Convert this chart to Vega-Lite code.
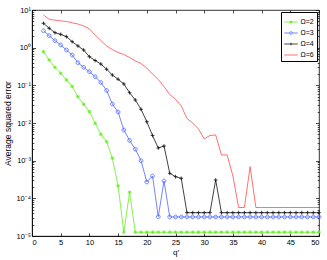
{
"$schema": "https://vega.github.io/schema/vega-lite/v6.json",
"width": 287, "height": 226,
"autosize": "none",
"padding": {"left": 32, "top": 10, "right": 8, "bottom": 24},
"data": {"values": [
{"q":2,"e":0.782,"s":"Ω=2"},{"q":3,"e":0.471,"s":"Ω=2"},{"q":4,"e":0.30,"s":"Ω=2"},{"q":5,"e":0.21,"s":"Ω=2"},{"q":6,"e":0.139,"s":"Ω=2"},{"q":7,"e":0.0931,"s":"Ω=2"},{"q":8,"e":0.0499,"s":"Ω=2"},{"q":9,"e":0.0314,"s":"Ω=2"},{"q":10,"e":0.0200,"s":"Ω=2"},{"q":11,"e":0.00982,"s":"Ω=2"},{"q":12,"e":0.00501,"s":"Ω=2"},{"q":13,"e":0.00319,"s":"Ω=2"},{"q":14,"e":0.00116,"s":"Ω=2"},{"q":15,"e":0.000213,"s":"Ω=2"},{"q":16,"e":0.0000126,"s":"Ω=2"},{"q":17,"e":0.000145,"s":"Ω=2"},{"q":18,"e":0.0000126,"s":"Ω=2"},{"q":19,"e":0.0000126,"s":"Ω=2"},{"q":20,"e":0.0000126,"s":"Ω=2"},{"q":21,"e":0.0000126,"s":"Ω=2"},{"q":22,"e":0.0000126,"s":"Ω=2"},{"q":23,"e":0.0000126,"s":"Ω=2"},{"q":24,"e":0.0000126,"s":"Ω=2"},{"q":25,"e":0.0000126,"s":"Ω=2"},{"q":26,"e":0.0000126,"s":"Ω=2"},{"q":27,"e":0.0000126,"s":"Ω=2"},{"q":28,"e":0.0000126,"s":"Ω=2"},{"q":29,"e":0.0000126,"s":"Ω=2"},{"q":30,"e":0.0000126,"s":"Ω=2"},{"q":31,"e":0.0000126,"s":"Ω=2"},{"q":32,"e":0.0000126,"s":"Ω=2"},{"q":33,"e":0.0000126,"s":"Ω=2"},{"q":34,"e":0.0000126,"s":"Ω=2"},{"q":35,"e":0.0000126,"s":"Ω=2"},{"q":36,"e":0.0000126,"s":"Ω=2"},{"q":37,"e":0.0000126,"s":"Ω=2"},{"q":38,"e":0.0000126,"s":"Ω=2"},{"q":39,"e":0.0000126,"s":"Ω=2"},{"q":40,"e":0.0000126,"s":"Ω=2"},{"q":41,"e":0.0000126,"s":"Ω=2"},{"q":42,"e":0.0000126,"s":"Ω=2"},{"q":43,"e":0.0000126,"s":"Ω=2"},{"q":44,"e":0.0000126,"s":"Ω=2"},{"q":45,"e":0.0000126,"s":"Ω=2"},{"q":46,"e":0.0000126,"s":"Ω=2"},{"q":47,"e":0.0000126,"s":"Ω=2"},{"q":48,"e":0.0000126,"s":"Ω=2"},{"q":49,"e":0.0000126,"s":"Ω=2"},{"q":50,"e":0.0000126,"s":"Ω=2"},
{"q":2,"e":2.82,"s":"Ω=3"},{"q":3,"e":2.08,"s":"Ω=3"},{"q":4,"e":1.53,"s":"Ω=3"},{"q":5,"e":1.18,"s":"Ω=3"},{"q":6,"e":0.867,"s":"Ω=3"},{"q":7,"e":0.638,"s":"Ω=3"},{"q":8,"e":0.399,"s":"Ω=3"},{"q":9,"e":0.301,"s":"Ω=3"},{"q":10,"e":0.230,"s":"Ω=3"},{"q":11,"e":0.169,"s":"Ω=3"},{"q":12,"e":0.119,"s":"Ω=3"},{"q":13,"e":0.0730,"s":"Ω=3"},{"q":14,"e":0.0320,"s":"Ω=3"},{"q":15,"e":0.0196,"s":"Ω=3"},{"q":16,"e":0.00652,"s":"Ω=3"},{"q":17,"e":0.00344,"s":"Ω=3"},{"q":18,"e":0.00202,"s":"Ω=3"},{"q":19,"e":0.000998,"s":"Ω=3"},{"q":20,"e":0.000272,"s":"Ω=3"},{"q":21,"e":0.000392,"s":"Ω=3"},{"q":22,"e":0.0000326,"s":"Ω=3"},{"q":23,"e":0.000289,"s":"Ω=3"},{"q":24,"e":0.000032,"s":"Ω=3"},{"q":25,"e":0.000032,"s":"Ω=3"},{"q":26,"e":0.000032,"s":"Ω=3"},{"q":27,"e":0.000032,"s":"Ω=3"},{"q":28,"e":0.000032,"s":"Ω=3"},{"q":29,"e":0.000032,"s":"Ω=3"},{"q":30,"e":0.000032,"s":"Ω=3"},{"q":31,"e":0.000032,"s":"Ω=3"},{"q":32,"e":0.000032,"s":"Ω=3"},{"q":33,"e":0.000032,"s":"Ω=3"},{"q":34,"e":0.000032,"s":"Ω=3"},{"q":35,"e":0.000032,"s":"Ω=3"},{"q":36,"e":0.000032,"s":"Ω=3"},{"q":37,"e":0.000032,"s":"Ω=3"},{"q":38,"e":0.000032,"s":"Ω=3"},{"q":39,"e":0.000032,"s":"Ω=3"},{"q":40,"e":0.000032,"s":"Ω=3"},{"q":41,"e":0.000032,"s":"Ω=3"},{"q":42,"e":0.000032,"s":"Ω=3"},{"q":43,"e":0.000032,"s":"Ω=3"},{"q":44,"e":0.000032,"s":"Ω=3"},{"q":45,"e":0.000032,"s":"Ω=3"},{"q":46,"e":0.000032,"s":"Ω=3"},{"q":47,"e":0.000032,"s":"Ω=3"},{"q":48,"e":0.000032,"s":"Ω=3"},{"q":49,"e":0.000032,"s":"Ω=3"},{"q":50,"e":0.000032,"s":"Ω=3"},
{"q":2,"e":4.43,"s":"Ω=4"},{"q":3,"e":3.27,"s":"Ω=4"},{"q":4,"e":2.50,"s":"Ω=4"},{"q":5,"e":2.26,"s":"Ω=4"},{"q":6,"e":1.96,"s":"Ω=4"},{"q":7,"e":1.44,"s":"Ω=4"},{"q":8,"e":1.11,"s":"Ω=4"},{"q":9,"e":0.867,"s":"Ω=4"},{"q":10,"e":0.576,"s":"Ω=4"},{"q":11,"e":0.456,"s":"Ω=4"},{"q":12,"e":0.368,"s":"Ω=4"},{"q":13,"e":0.267,"s":"Ω=4"},{"q":14,"e":0.188,"s":"Ω=4"},{"q":15,"e":0.145,"s":"Ω=4"},{"q":16,"e":0.109,"s":"Ω=4"},{"q":17,"e":0.0638,"s":"Ω=4"},{"q":18,"e":0.0408,"s":"Ω=4"},{"q":19,"e":0.0231,"s":"Ω=4"},{"q":20,"e":0.0108,"s":"Ω=4"},{"q":21,"e":0.00466,"s":"Ω=4"},{"q":22,"e":0.00217,"s":"Ω=4"},{"q":23,"e":0.00245,"s":"Ω=4"},{"q":24,"e":0.000462,"s":"Ω=4"},{"q":25,"e":0.000376,"s":"Ω=4"},{"q":26,"e":0.000340,"s":"Ω=4"},{"q":27,"e":0.0000416,"s":"Ω=4"},{"q":28,"e":0.0000416,"s":"Ω=4"},{"q":29,"e":0.0000416,"s":"Ω=4"},{"q":30,"e":0.0000416,"s":"Ω=4"},{"q":31,"e":0.0000416,"s":"Ω=4"},{"q":32,"e":0.000307,"s":"Ω=4"},{"q":33,"e":0.0000416,"s":"Ω=4"},{"q":34,"e":0.0000416,"s":"Ω=4"},{"q":35,"e":0.0000416,"s":"Ω=4"},{"q":36,"e":0.0000416,"s":"Ω=4"},{"q":37,"e":0.0000416,"s":"Ω=4"},{"q":38,"e":0.0000416,"s":"Ω=4"},{"q":39,"e":0.0000416,"s":"Ω=4"},{"q":40,"e":0.0000416,"s":"Ω=4"},{"q":41,"e":0.0000416,"s":"Ω=4"},{"q":42,"e":0.0000416,"s":"Ω=4"},{"q":43,"e":0.0000416,"s":"Ω=4"},{"q":44,"e":0.0000416,"s":"Ω=4"},{"q":45,"e":0.0000416,"s":"Ω=4"},{"q":46,"e":0.0000416,"s":"Ω=4"},{"q":47,"e":0.0000416,"s":"Ω=4"},{"q":48,"e":0.0000416,"s":"Ω=4"},{"q":49,"e":0.0000416,"s":"Ω=4"},{"q":50,"e":0.0000416,"s":"Ω=4"},
{"q":2,"e":7.37,"s":"Ω=6"},{"q":3,"e":5.63,"s":"Ω=6"},{"q":4,"e":5.36,"s":"Ω=6"},{"q":5,"e":5.17,"s":"Ω=6"},{"q":6,"e":4.95,"s":"Ω=6"},{"q":7,"e":4.57,"s":"Ω=6"},{"q":8,"e":4.25,"s":"Ω=6"},{"q":9,"e":3.76,"s":"Ω=6"},{"q":10,"e":3.17,"s":"Ω=6"},{"q":11,"e":2.17,"s":"Ω=6"},{"q":12,"e":1.55,"s":"Ω=6"},{"q":13,"e":1.11,"s":"Ω=6"},{"q":14,"e":0.893,"s":"Ω=6"},{"q":15,"e":0.744,"s":"Ω=6"},{"q":16,"e":0.659,"s":"Ω=6"},{"q":17,"e":0.548,"s":"Ω=6"},{"q":18,"e":0.443,"s":"Ω=6"},{"q":19,"e":0.380,"s":"Ω=6"},{"q":20,"e":0.288,"s":"Ω=6"},{"q":21,"e":0.200,"s":"Ω=6"},{"q":22,"e":0.143,"s":"Ω=6"},{"q":23,"e":0.0920,"s":"Ω=6"},{"q":24,"e":0.0571,"s":"Ω=6"},{"q":25,"e":0.0426,"s":"Ω=6"},{"q":26,"e":0.0283,"s":"Ω=6"},{"q":27,"e":0.0132,"s":"Ω=6"},{"q":28,"e":0.0100,"s":"Ω=6"},{"q":29,"e":0.00693,"s":"Ω=6"},{"q":30,"e":0.00377,"s":"Ω=6"},{"q":31,"e":0.00466,"s":"Ω=6"},{"q":32,"e":0.00481,"s":"Ω=6"},{"q":33,"e":0.00142,"s":"Ω=6"},{"q":34,"e":0.00142,"s":"Ω=6"},{"q":35,"e":0.000392,"s":"Ω=6"},{"q":36,"e":0.0000571,"s":"Ω=6"},{"q":37,"e":0.0000571,"s":"Ω=6"},{"q":38,"e":0.000692,"s":"Ω=6"},{"q":39,"e":0.0000571,"s":"Ω=6"},{"q":40,"e":0.0000571,"s":"Ω=6"},{"q":41,"e":0.0000571,"s":"Ω=6"},{"q":42,"e":0.0000571,"s":"Ω=6"},{"q":43,"e":0.0000571,"s":"Ω=6"},{"q":44,"e":0.0000571,"s":"Ω=6"},{"q":45,"e":0.0000571,"s":"Ω=6"},{"q":46,"e":0.0000571,"s":"Ω=6"},{"q":47,"e":0.0000571,"s":"Ω=6"},{"q":48,"e":0.0000571,"s":"Ω=6"},{"q":49,"e":0.0000571,"s":"Ω=6"},{"q":50,"e":0.0000571,"s":"Ω=6"}
]},
"layer": [
{
"mark": {"type": "line", "strokeWidth": 0.8},
"encoding": {
"x": {"field": "q", "type": "quantitative", "scale": {"domain": [0, 50], "nice": false},
 "axis": {"title": "q′", "values": [0,5,10,15,20,25,30,35,40,45,50], "tickSize": -3, "labelPadding": 5, "titlePadding": 3}},
"y": {"field": "e", "type": "quantitative", "scale": {"type": "log", "domain": [0.00001, 10], "nice": false},
 "axis": {"title": "Average squared error", "titlePadding": 3, "titleFontSize": 8.5,
 "values": [0.00001,0.00002,0.00003,0.00004,0.00005,0.00006,0.00007,0.00008,0.00009,0.0001,0.0002,0.0003,0.0004,0.0005,0.0006,0.0007,0.0008,0.0009,0.001,0.002,0.003,0.004,0.005,0.006,0.007,0.008,0.009,0.01,0.02,0.03,0.04,0.05,0.06,0.07,0.08,0.09,0.1,0.2,0.3,0.4,0.5,0.6,0.7,0.8,0.9,1,2,3,4,5,6,7,8,9,10],
 "tickSize": {"condition": {"test": "abs(log(datum.value)/LN10 - round(log(datum.value)/LN10)) < 0.01", "value": -3.5}, "value": -1.8},
 "labelPadding": 5, "labelOverlap": false,
 "labelExpr": "abs(log(datum.value)/LN10 - round(log(datum.value)/LN10)) < 0.01 ? '10' + ['⁻⁵','⁻⁴','⁻³','⁻²','⁻¹','⁰','¹'][round(log(datum.value)/LN10) + 5] : ''"}},
"color": {"field": "s", "type": "nominal", "scale": {"domain": ["Ω=2","Ω=3","Ω=4","Ω=6"], "range": ["#66ee22","#4d66ff","#111111","#ff4d4d"]}, "legend": null},
"detail": {"field": "s"}
}
},
{
"transform": [{"filter": "datum.s != 'Ω=6'"}],
"mark": {"type": "point", "filled": false, "strokeWidth": 0.8, "opacity": 1, "size": 14},
"encoding": {
"x": {"field": "q", "type": "quantitative", "axis": null},
"y": {"field": "e", "type": "quantitative", "axis": null},
"color": {"field": "s", "type": "nominal", "legend": null},
"shape": {"field": "s", "type": "nominal", "legend": null, "scale": {"domain": ["Ω=2","Ω=3","Ω=4"], "range": ["M-1,0L1,0M0,-1L0,1M-0.7,-0.7L0.7,0.7M-0.7,0.7L0.7,-0.7", "M-1,0A1,1 0 1,0 1,0A1,1 0 1,0 -1,0", "M-1,0L1,0M0,-1L0,1"]}}
}
},
{
"mark": {"type": "point", "filled": false, "opacity": 0},
"encoding": {
"x": {"field": "q", "type": "quantitative", "axis": null},
"y": {"field": "e", "type": "quantitative", "axis": null},
"color": {"field": "s", "type": "nominal", "legend": {"title": null, "orient": "top-right", "offset": 2, "strokeColor": "#000", "fillColor": "#fff", "padding": 2.5, "symbolSize": 180, "symbolStrokeWidth": 0.8, "symbolOpacity": 1, "labelFontSize": 7, "labelFont": "Liberation Sans", "labelColor": "#000", "labelOffset": 2, "rowPadding": 0}},
"shape": {"field": "s", "type": "nominal", "scale": {"domain": ["Ω=2","Ω=3","Ω=4","Ω=6"], "range": ["M-1,0L1,0M-0.22,0L0.22,0M0,-0.22L0,0.22M-0.16,-0.16L0.16,0.16M-0.16,0.16L0.16,-0.16", "M-1,0L-0.2,0M0.2,0L1,0M-0.2,0A0.2,0.2 0 1,0 0.2,0A0.2,0.2 0 1,0 -0.2,0", "M-1,0L1,0M0,-0.2L0,0.2", "M-1,0L1,0"]}, "legend": {"title": null, "orient": "top-right"}}
}
},
{
"mark": {"type": "line", "strokeOpacity": 0},
"encoding": {
"x": {"field": "q", "type": "quantitative", "axis": {"orient": "top", "labels": false, "domain": false, "title": null, "values": [0,5,10,15,20,25,30,35,40,45,50], "tickSize": -3}},
"y": {"field": "e", "type": "quantitative", "axis": {"orient": "right", "labels": false, "domain": false, "title": null, "labelOverlap": false,
 "values": [0.00001,0.00002,0.00003,0.00004,0.00005,0.00006,0.00007,0.00008,0.00009,0.0001,0.0002,0.0003,0.0004,0.0005,0.0006,0.0007,0.0008,0.0009,0.001,0.002,0.003,0.004,0.005,0.006,0.007,0.008,0.009,0.01,0.02,0.03,0.04,0.05,0.06,0.07,0.08,0.09,0.1,0.2,0.3,0.4,0.5,0.6,0.7,0.8,0.9,1,2,3,4,5,6,7,8,9,10],
 "tickSize": {"condition": {"test": "abs(log(datum.value)/LN10 - round(log(datum.value)/LN10)) < 0.01", "value": -3.5}, "value": -1.8}}},
"detail": {"field": "s"}
}
}
],
"resolve": {"scale": {"shape": "independent"}, "axis": {"x": "independent", "y": "independent"}, "legend": {"color": "independent", "shape": "independent"}},
"config": {
"view": {"stroke": "#000", "strokeWidth": 0.8},
"axis": {"grid": false, "domainColor": "#000", "domainWidth": 0.8, "tickColor": "#000", "tickWidth": 0.7, "labelFont": "Liberation Sans", "labelFontSize": 7.5, "labelColor": "#000", "titleFont": "Liberation Sans", "titleFontWeight": "normal", "titleFontSize": 8, "titleColor": "#000"}
}
}
